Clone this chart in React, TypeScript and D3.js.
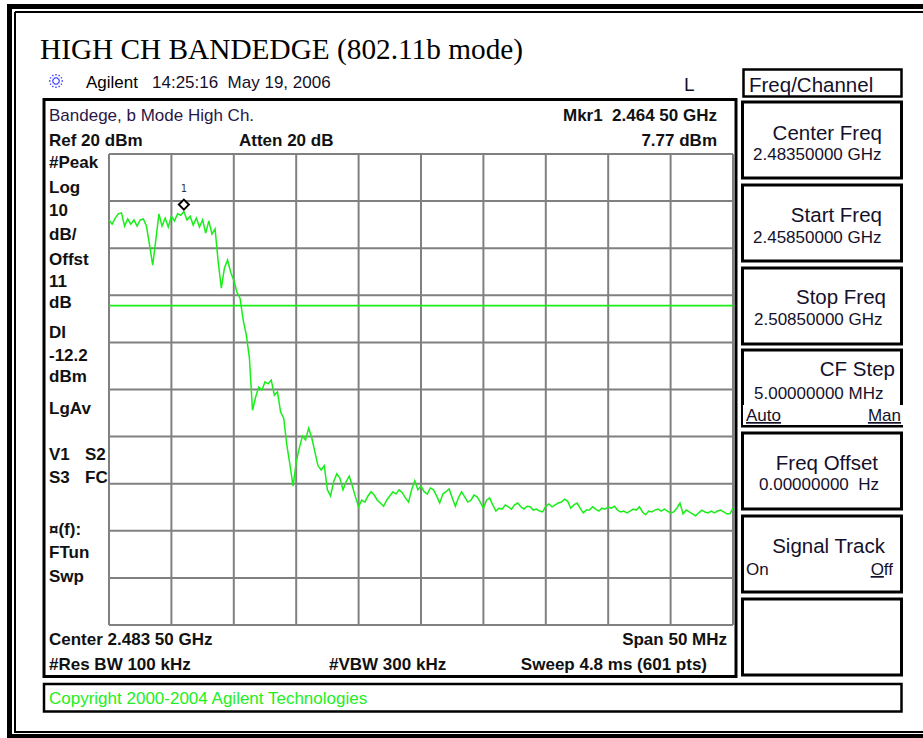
import * as d3 from "d3";

// instrument settings
const startFreqMHz = 2458.5;
const stopFreqMHz = 2508.5;
const refLevelDbm = 20;
const dbPerDiv = 10;
const gridDivisions = 10;
const displayLineDbm = -12.2;
const markerFreqMHz = 2464.5;
const markerLevelDbm = 7.77;
const traceStepMHz = 0.25;

// trace, one value every 0.25 MHz from the start frequency (dBm)
const traceLevels = [
  6.0, 5.1, 6.4, 7.3, 7.5, 4.7, 6.2, 5.1, 6.0, 4.7,
  6.0, 6.2, 4.7, 0.7, -3.6, 1.7, 7.3, 4.7, 6.4, 4.5,
  6.8, 5.8, 7.3, 7.0, 7.77, 6.0, 6.8, 4.9, 6.4, 4.5,
  6.0, 3.2, 5.8, 3.0, 4.1, -2.9, -8.5, -4.2, -2.5, -5.1,
  -6.8, -9.3, -10.6, -15.2, -18.4, -23.3, -34.4, -31.6, -29.5, -30.1,
  -28.4, -28.8, -28.0, -31.2, -30.5, -34.8, -36.1, -41.8, -46.0, -50.5,
  -45.4, -42.4, -39.9, -40.7, -38.2, -40.3, -43.3, -46.2, -47.1, -46.2,
  -51.3, -52.6, -49.6, -47.9, -48.8, -51.3, -49.6, -48.4, -50.5, -52.8,
  -54.9, -53.5, -53.9, -52.6, -51.7, -52.4, -53.5, -54.1, -54.8, -53.5,
  -52.6, -51.7, -52.2, -51.3, -51.9, -53.0, -53.9, -51.3, -49.4, -51.3,
  -50.5, -51.7, -52.2, -50.9, -51.3, -52.6, -54.1, -52.2, -51.7, -51.1,
  -53.0, -54.8, -53.0, -51.7, -52.8, -53.9, -53.5, -52.4, -52.8, -53.9,
  -55.2, -53.5, -53.0, -54.5, -55.8, -55.2, -55.4, -54.5, -54.9, -55.4,
  -54.5, -54.1, -54.9, -55.4, -54.8, -54.9, -55.6, -55.4, -55.8, -56.0,
  -54.8, -54.3, -54.9, -54.5, -54.1, -53.9, -53.3, -53.7, -55.2, -54.5,
  -54.1, -55.2, -56.2, -55.6, -55.6, -54.9, -55.4, -55.8, -55.2, -55.4,
  -54.9, -55.2, -54.8, -55.6, -56.0, -55.8, -56.2, -55.8, -55.4, -55.6,
  -54.9, -56.0, -56.6, -55.8, -56.0, -55.6, -55.4, -55.8, -55.4, -55.8,
  -56.2, -56.0, -55.2, -54.1, -56.4, -55.6, -56.0, -56.4, -56.8, -56.2,
  -55.6, -56.0, -56.2, -55.8, -56.2, -55.8, -55.6, -56.0, -56.4, -56.4,
  -55.2,
];

const leftLabels = [
  "#Peak", "Log", "10", "dB/", "Offst", "11", "dB", "DI", "-12.2", "dBm",
  "LgAv", "V1", "S3", "¤(f):", "FTun", "Swp",
];
const leftLabelsCol2 = ["S2", "FC"];

const softkeyTitles = ["Center Freq", "Start Freq", "Stop Freq", "CF Step", "Freq Offset", "Signal Track", ""];
const softkeyValues = ["2.48350000 GHz", "2.45850000 GHz", "2.50850000 GHz", "5.00000000 MHz", "0.00000000  Hz", "", ""];

// layout
const W = 923;
const H = 738;
const grid = { left: 109, right: 733, top: 154, bottom: 625 };
const leftBaselines = [168, 193, 216, 240, 265, 287, 308, 338, 361, 382, 414, 460, 483, 535, 558, 582];
const col2Baselines = [460, 483];
const keyTops = [101, 184, 267, 349, 432, 515, 598];
const keyTitleRight = [882, 882, 886, 895, 878, 885, 0];
const keyTitleDy = [39, 38, 37, 27, 38, 38, 0];
const keyValueLeft = [753, 753, 754, 754, 759, 0, 0];
const keyValueDy = [59, 59, 58, 50, 58, 0, 0];

const sans = "'Liberation Sans', Arial, sans-serif";
const green = "#19ee19";
const textDark = "#15102a";

export default function App() {
  const x = d3.scaleLinear().domain([startFreqMHz, stopFreqMHz]).range([grid.left, grid.right]);
  const y = d3
    .scaleLinear()
    .domain([refLevelDbm, refLevelDbm - dbPerDiv * gridDivisions])
    .range([grid.top, grid.bottom]);

  const xLines = d3.range(gridDivisions + 1).map((i) => startFreqMHz + (i * (stopFreqMHz - startFreqMHz)) / gridDivisions);
  const yLines = d3.range(gridDivisions + 1).map((i) => refLevelDbm - i * dbPerDiv);

  const line = d3
    .line<number>()
    .x((_, i) => x(startFreqMHz + i * traceStepMHz))
    .y((d) => y(d));

  const mx = x(markerFreqMHz);
  const my = y(markerLevelDbm);

  // Agilent starburst
  const rays = d3.range(12).map((i) => (i * Math.PI) / 6);

  return (
    <svg width={W} height={H} style={{ position: "absolute", left: 0, top: 0, background: "#fff" }}>
      {/* outer double frame */}
      <g fill="none" stroke="#000">
        <path d={`M9.5,4 V745 M7,6.5 H935 M7,736.5 H935`} strokeWidth={5} />
        <path d={`M15,12 V732 H935 M15,12 H935`} strokeWidth={2} />
      </g>

      <text x={40} y={59} fontFamily="'Liberation Serif', 'Times New Roman', serif" fontSize={29.3} fill="#000">
        HIGH CH BANDEDGE (802.11b mode)
      </text>

      <g stroke="#3a3aff" strokeWidth={1.4} strokeDasharray="1.5,1.5">
        {rays.map((a, i) => (
          <line key={i} x1={56 + Math.cos(a) * 2.5} y1={81 + Math.sin(a) * 2.5} x2={56 + Math.cos(a) * 7.5} y2={81 + Math.sin(a) * 7.5} />
        ))}
      </g>
      <text x={86} y={88} fontFamily={sans} fontSize={17} fill="#000">Agilent</text>
      <text x={152} y={88} fontFamily={sans} fontSize={17} fill={textDark} style={{ whiteSpace: "pre" }}>
        14:25:16  May 19, 2006
      </text>
      <text x={684} y={91} fontFamily={sans} fontSize={19} fill={textDark}>L</text>

      {/* main screen */}
      <rect x={44} y={99.5} width={692} height={577} fill="none" stroke="#000" strokeWidth={3} />
      <text x={49} y={121} fontFamily={sans} fontSize={17} fill="#2a1648">Bandege, b Mode High Ch.</text>
      <g fontFamily={sans} fontSize={17} fontWeight="bold" fill="#111">
        <text x={49} y={146}>Ref 20 dBm</text>
        <text x={239} y={146}>Atten 20 dB</text>
        <text x={717} y={121} textAnchor="end" style={{ whiteSpace: "pre" }}>Mkr1  2.464 50 GHz</text>
        <text x={717} y={146} textAnchor="end">7.77 dBm</text>
        {leftLabels.map((t, i) => (
          <text key={t} x={49} y={leftBaselines[i]}>{t}</text>
        ))}
        {leftLabelsCol2.map((t, i) => (
          <text key={t} x={85} y={col2Baselines[i]}>{t}</text>
        ))}
        <text x={49} y={645}>Center 2.483 50 GHz</text>
        <text x={727} y={645} textAnchor="end">Span 50 MHz</text>
        <text x={49} y={670}>#Res BW 100 kHz</text>
        <text x={329} y={670}>#VBW 300 kHz</text>
        <text x={707} y={670} textAnchor="end">Sweep 4.8 ms (601 pts)</text>
      </g>

      {/* graticule */}
      <g stroke="#808080" strokeWidth={2}>
        {xLines.map((f) => (
          <line key={"x" + f} x1={x(f)} x2={x(f)} y1={grid.top} y2={grid.bottom} />
        ))}
        {yLines.map((l) => (
          <line key={"y" + l} x1={grid.left} x2={grid.right} y1={y(l)} y2={y(l)} />
        ))}
      </g>

      <line x1={grid.left} x2={grid.right} y1={y(displayLineDbm)} y2={y(displayLineDbm)} stroke={green} strokeWidth={1.8} />
      <path d={line(traceLevels) || ""} fill="none" stroke={green} strokeWidth={1.5} />

      {/* marker 1 */}
      <path d={`M${mx},${my - 12} l5,5 l-5,5 l-5,-5 z`} fill="#fff" stroke="#000" strokeWidth={2} />
      <text x={mx} y={my - 20} textAnchor="middle" fontFamily="'DejaVu Sans Mono', monospace" fontSize={10} fill="#333">1</text>

      {/* softkey panel */}
      <rect x={743.5} y={69.5} width={158} height={27} fill="none" stroke="#000" strokeWidth={2.5} />
      <text x={749} y={92} fontFamily={sans} fontSize={20.5} fill={textDark}>Freq/Channel</text>
      {keyTops.map((top, i) => (
        <g key={i}>
          <rect x={742.5} y={top + 1} width={159} height={76} fill="none" stroke="#000" strokeWidth={3} />
          {softkeyTitles[i] && (
            <text x={keyTitleRight[i]} y={top + keyTitleDy[i]} textAnchor="end" fontFamily={sans} fontSize={20.5} fill={textDark}>
              {softkeyTitles[i]}
            </text>
          )}
          {softkeyValues[i] && (
            <text x={keyValueLeft[i]} y={top + keyValueDy[i]} fontFamily={sans} fontSize={17} fill={textDark} style={{ whiteSpace: "pre" }}>
              {softkeyValues[i]}
            </text>
          )}
        </g>
      ))}
      <g fontFamily={sans} fontSize={17} fill={textDark}>
        <rect x={743} y={405} width={160} height={20} fill="#fff" />
        <text x={746} y={421} textDecoration="underline">Auto</text>
        <text x={901} y={421} textAnchor="end" textDecoration="underline">Man</text>
        <text x={746} y={575}>On</text>
        <text x={893} y={575} textAnchor="end">
          <tspan textDecoration="underline">O</tspan>ff
        </text>
      </g>

      {/* copyright bar */}
      <rect x={44} y={684} width={857.5} height={27.5} fill="none" stroke="#000" strokeWidth={2.5} />
      <text x={49} y={704} fontFamily={sans} fontSize={17} fill="#22ee22">Copyright 2000-2004 Agilent Technologies</text>
    </svg>
  );
}
